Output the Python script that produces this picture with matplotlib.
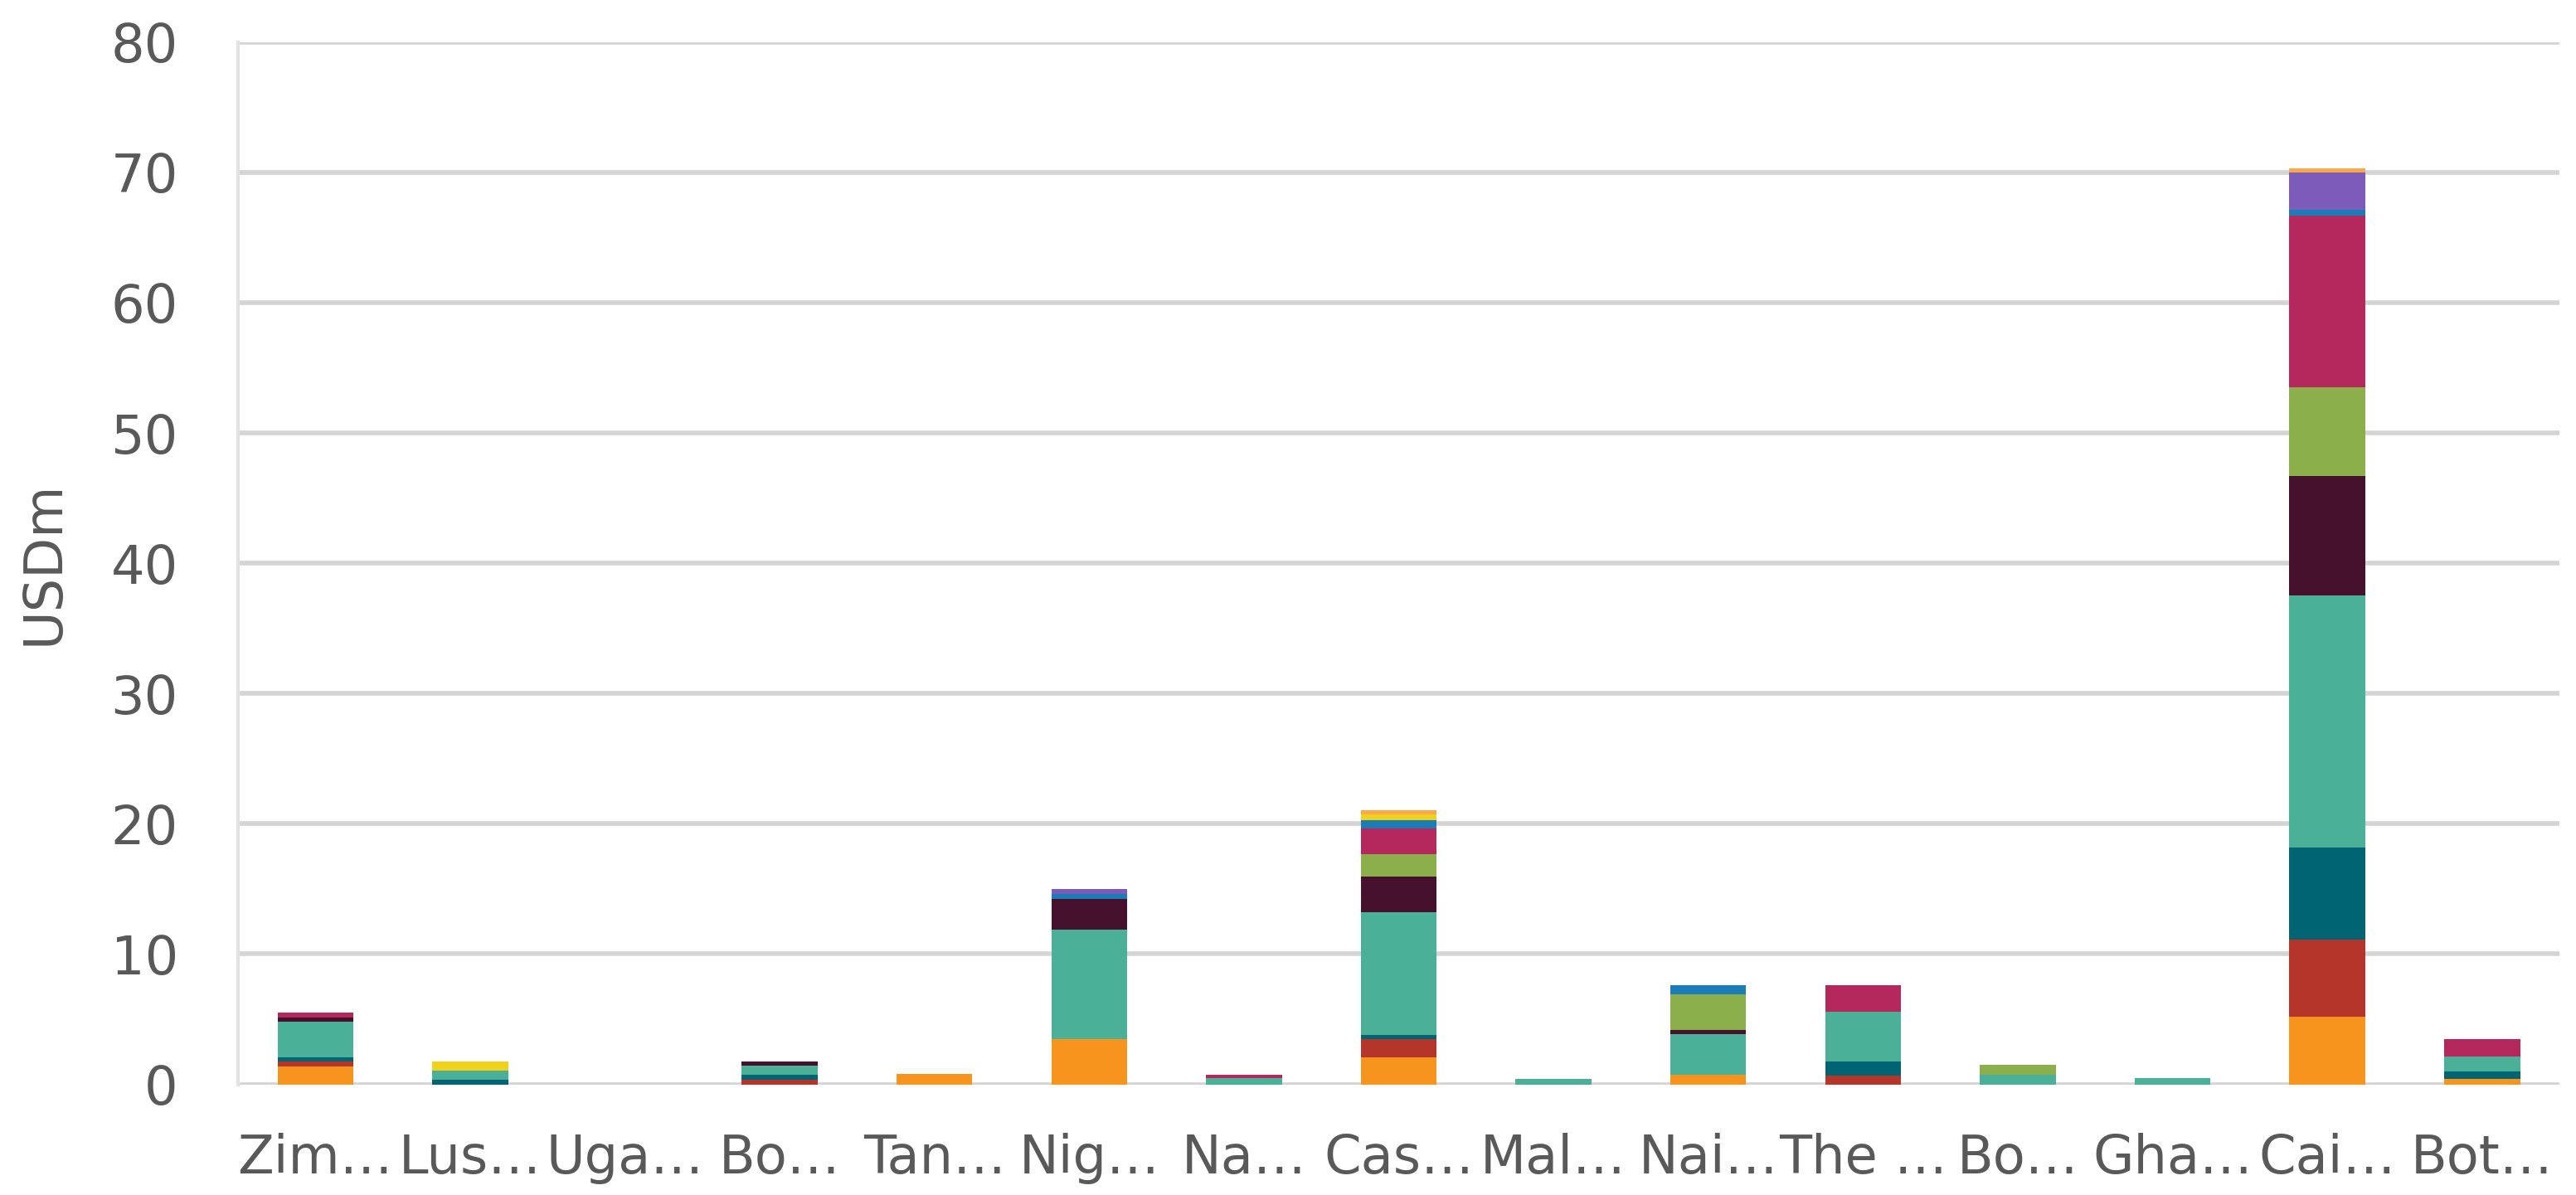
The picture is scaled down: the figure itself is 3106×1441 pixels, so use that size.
import matplotlib
matplotlib.use("Agg")
import matplotlib.pyplot as plt
import numpy as np

categories = ["Zim…", "Lus…", "Uga…", "Bo…", "Tan…", "Nig…", "Na…", "Cas…",
              "Mal…", "Nai…", "The …", "Bo…", "Gha…", "Cai…", "Bot…"]

s_orange   = [1.4, 0.0, 0, 0.0, 0.8, 3.45, 0.0, 2.05, 0.0, 0.75, 0.0, 0.0, 0.0, 5.2, 0.4]
s_red      = [0.35, 0.0, 0, 0.38, 0.0, 0.0, 0.0, 1.41, 0.0, 0.0, 0.7, 0.0, 0.0, 5.9, 0.0]
s_darkteal = [0.32, 0.38, 0, 0.36, 0.0, 0.0, 0.0, 0.32, 0.0, 0.0, 1.05, 0.0, 0.0, 7.1, 0.6]
s_teal     = [2.74, 0.65, 0, 0.7, 0.0, 8.45, 0.45, 9.45, 0.42, 3.1, 3.8, 0.75, 0.45, 19.3, 1.15]
s_maroon   = [0.3, 0.0, 0, 0.34, 0.0, 2.36, 0.0, 2.74, 0.0, 0.34, 0.0, 0.0, 0.0, 9.2, 0.0]
s_green    = [0.0, 0.0, 0, 0.0, 0.0, 0.0, 0.0, 1.7, 0.0, 2.7, 0.0, 0.75, 0.0, 6.8, 0.0]
s_magenta  = [0.42, 0.0, 0, 0.0, 0.0, 0.0, 0.3, 2.0, 0.0, 0.0, 2.05, 0.0, 0.0, 13.2, 1.3]
s_blue     = [0.0, 0.0, 0, 0.0, 0.0, 0.36, 0.0, 0.63, 0.0, 0.72, 0.0, 0.0, 0.0, 0.4, 0.0]
s_purple   = [0.0, 0.0, 0, 0.0, 0.0, 0.38, 0.0, 0.0, 0.0, 0.0, 0.0, 0.0, 0.0, 2.9, 0.0]
s_yellow   = [0.0, 0.72, 0, 0.0, 0.0, 0.0, 0.0, 0.45, 0.0, 0.0, 0.0, 0.0, 0.0, 0.0, 0.0]
s_lightor  = [0.0, 0.0, 0, 0.0, 0.0, 0.0, 0.0, 0.32, 0.0, 0.0, 0.0, 0.0, 0.0, 0.3, 0.0]

series = [s_orange, s_red, s_darkteal, s_teal, s_maroon, s_green,
          s_magenta, s_blue, s_purple, s_yellow, s_lightor]
colors = ["#F7941E", "#B5352A", "#006472", "#4AB098", "#45112D", "#8BAF4A",
          "#B5285E", "#1A7DB8", "#7D5BBA", "#F0D11C", "#F9A84A"]

yticks = [0, 10, 20, 30, 40, 50, 60, 70, 80]

fig = plt.figure(figsize=(15.53, 7.205), dpi=200)
ax = fig.add_axes([0.0924, 0.0926, 0.9012, 0.8722])

x = np.arange(len(categories))
bottom = np.zeros(len(categories))
for vals, c in zip(series, colors):
    v = np.array(vals, dtype=float)
    ax.bar(x, v, bottom=bottom, width=0.49, color=c, linewidth=0, zorder=3)
    bottom += v

ax.set_xlim(-0.5, len(categories) - 0.5)
ax.set_ylim(0, 80)
ax.set_yticks(yticks)
ax.set_yticklabels([str(t) for t in yticks])
ax.set_xticks(x)
ax.set_xticklabels(categories)
ax.grid(axis="y", color="#D4D4D4", linewidth=2.0, zorder=0)
ax.set_axisbelow(True)
ax.tick_params(axis="both", length=0, labelsize=23, colors="#595959")
ax.tick_params(axis="y", pad=26)
ax.tick_params(axis="x", pad=21)
for side in ["top", "right", "bottom"]:
    ax.spines[side].set_visible(False)
ax.spines["left"].set_color("#E3E3E3")
ax.spines["left"].set_linewidth(1.5)
ax.set_ylabel("USDm", fontsize=23, color="#595959", labelpad=18)

fig.savefig("out.png", dpi=200, facecolor="white")
